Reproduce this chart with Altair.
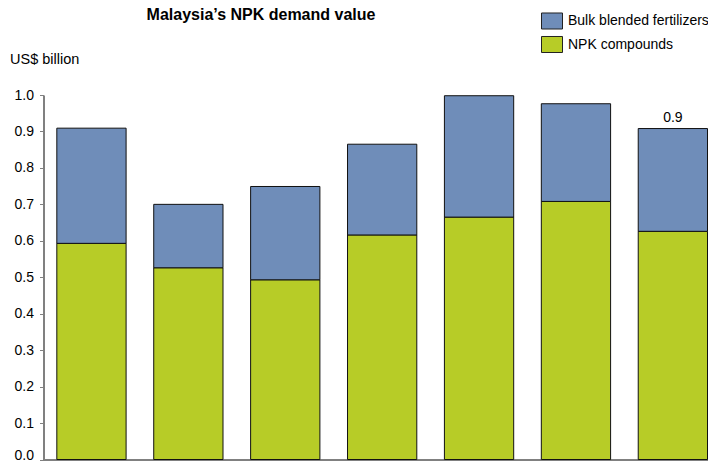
import altair as alt
import pandas as pd

categories = ["1", "2", "3", "4", "5", "6", "7"]
npk_compounds = [0.593, 0.526, 0.493, 0.616, 0.665, 0.708, 0.626]
bulk_blended = [0.316, 0.174, 0.256, 0.249, 0.333, 0.268, 0.282]
series_names = ["Bulk blended fertilizers", "NPK compounds"]
series_colors = ["#6F8DB9", "#B7CC27"]
y_ticks = [0.0, 0.1, 0.2, 0.3, 0.4, 0.5, 0.6, 0.7, 0.8, 0.9, 1.0]
last_label = "0.9"

rows = []
for c, n, b in zip(categories, npk_compounds, bulk_blended):
    rows.append({"cat": c, "series": "NPK compounds", "value": n, "ord": 0})
    rows.append({"cat": c, "series": "Bulk blended fertilizers", "value": b, "ord": 1})
df = pd.DataFrame(rows)

label_df = pd.DataFrame({
    "cat": [categories[-1]],
    "value": [npk_compounds[-1] + bulk_blended[-1]],
    "txt": [last_label],
})

FONT = "Liberation Sans"

xscale = alt.Scale(paddingInner=0.285, paddingOuter=0.0713, align=0.964)
yscale = alt.Scale(domain=[0, 1.0], nice=False)
xaxis = alt.Axis(title=None, labels=False, ticks=False,
                 domainColor="#808080", domainWidth=2)
yaxis = alt.Axis(title=None, values=y_ticks,
                 format=".1f", grid=False, tickSize=4,
                 tickColor="#808080", domainColor="#808080",
                 domainWidth=2, labelPadding=6, labelOverlap=False,
                 labelOffset=alt.condition("datum.value == 0", alt.value(-4), alt.value(0)),
                 labelFontSize=14, labelColor="#000000",
                 labelFont=FONT)

bars = alt.Chart(df).mark_bar(stroke="#111111", strokeWidth=1).encode(
    x=alt.X("cat:N", scale=xscale, sort=categories, axis=xaxis),
    y=alt.Y("sum(value):Q", scale=yscale, axis=yaxis),
    color=alt.Color("series:N",
                    scale=alt.Scale(domain=series_names, range=series_colors),
                    legend=alt.Legend(title=None, orient="none",
                                      legendX=497.5, legendY=-85,
                                      symbolType="M-1,-0.762H1V0.762H-1Z",
                                      symbolSize=441, symbolStrokeColor="#222222",
                                      symbolStrokeWidth=1, symbolOpacity=1,
                                      labelFontSize=14, labelFont=FONT,
                                      labelColor="#000000", labelOffset=5,
                                      labelLimit=300,
                                      rowPadding=1.5, padding=0)),
    order=alt.Order("ord:Q"),
)

label = alt.Chart(label_df).mark_text(
    dy=-11, fontSize=14, font=FONT, color="#000000"
).encode(
    x=alt.X("cat:N", sort=categories, scale=xscale, axis=xaxis),
    y=alt.Y("sum(value):Q", scale=yscale, axis=yaxis),
    text="txt:N",
)

one = pd.DataFrame({"k": [0]})
title = alt.Chart(one).mark_text(
    fontSize=16, fontWeight="bold", font=FONT, align="center",
    baseline="middle", color="#000000"
).encode(x=alt.value(217.5), y=alt.value(-80.5), text=alt.value("Malaysia\u2019s NPK demand value"))

unit = alt.Chart(one).mark_text(
    fontSize=14.5, font=FONT, align="left", baseline="middle", color="#000000"
).encode(x=alt.value(-33.5), y=alt.value(-35.5), text=alt.value("US$ billion"))

chart = alt.layer(bars, label, title, unit).properties(
    width=664.5, height=364.5,
    background="white",
    autosize=alt.AutoSizeParams(type="none"),
    padding={"left": 35.5, "top": 87, "right": 0, "bottom": 1},
).configure_view(stroke=None)

chart.save("out.html", embed_options={"renderer": "svg", "actions": False})
